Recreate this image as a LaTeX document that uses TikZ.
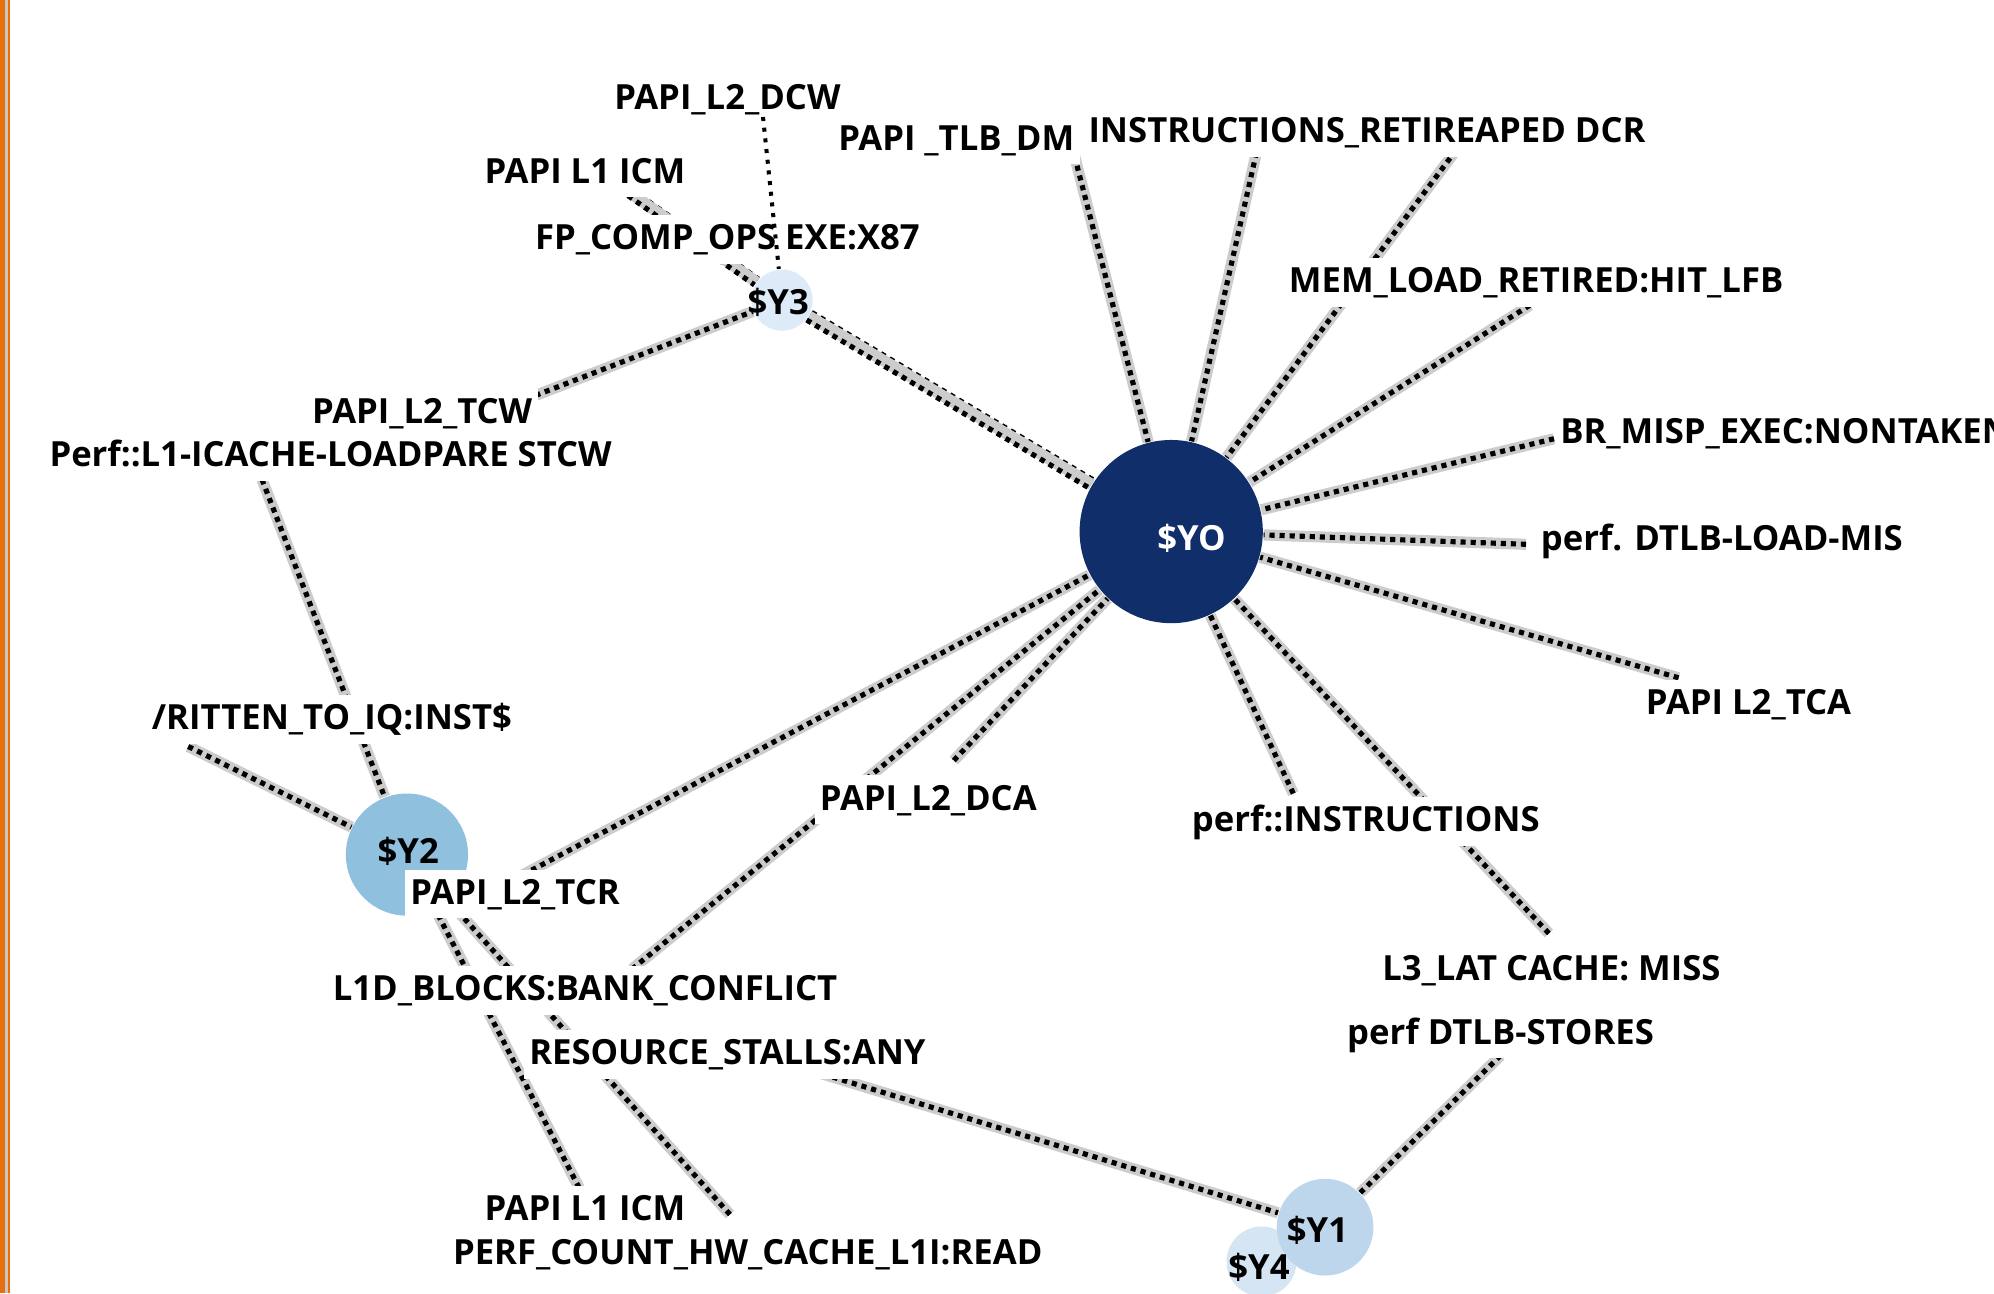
\documentclass[tikz,border=0pt]{standalone}
\usepackage{fontspec}
\setmainfont{Open Sans}
\usepackage{tikz}

\definecolor{hubnavy}{RGB}{16,46,106}
\definecolor{ytwo}{RGB}{143,192,222}
\definecolor{yone}{RGB}{190,214,236}
\definecolor{yfour}{RGB}{214,229,244}
\definecolor{ythree}{RGB}{221,234,247}
\definecolor{edgeorange}{RGB}{232,112,12}
\newcommand{\tagfont}{\fontsize{7.75}{9}\selectfont\bfseries}

\begin{document}
\begin{tikzpicture}[x=0.01cm,y=-0.01cm,
  link/.style={draw=black,line width=1.15pt,dash pattern=on 1.15pt off 1.1pt,preaction={draw=black!20,line width=2.5pt,solid}},
  thinlink/.style={draw=black,line width=0.9pt,dash pattern=on 0.9pt off 1.5pt},
  tag/.style={anchor=base,fill=white,inner sep=1.2pt,text height=0.23cm,text depth=0.07cm,font=\tagfont},
  dot/.style={circle,inner sep=0pt,draw=none},
  dotname/.style={anchor=base,inner sep=0pt,font=\tagfont}]
\useasboundingbox (0,0) rectangle (1568,1017);
\fill[white] (0,0) rectangle (1568,1017);
\fill[edgeorange] (0,0) rectangle (4,1017);
\fill[black!22] (4,0) rectangle (6.3,1017);
\fill[edgeorange] (6.3,0) rectangle (7.9,1017);
\node[dot,fill=hubnavy,minimum size=1.44cm] (yo) at (921,418) {};
\node[dot,fill=ythree,minimum size=0.48cm] (y3) at (615,236) {};
\node[dot,fill=ytwo,minimum size=0.96cm] (y2) at (320,672) {};
\node[dot,fill=yfour,minimum size=0.55cm] (y4) at (992,992) {};
\node[dot,fill=yone,minimum size=0.76cm] (y1) at (1042,965) {};
\coordinate (c-dcw) at (600,92);
\coordinate (c-icm1) at (489,147);
\coordinate (c-tlb) at (843,115);
\coordinate (c-ins1) at (988,120);
\coordinate (c-ins2) at (1145,118);
\coordinate (c-mem) at (1203,240);
\coordinate (c-br) at (1222,345);
\coordinate (c-dtlb) at (1200,428);
\coordinate (c-tca) at (1320,533);
\coordinate (c-pins) at (1017,624);
\coordinate (c-l3) at (1218,734);
\coordinate (c-dca) at (750,598);
\coordinate (c-l1d) at (497,762);
\coordinate (c-tcr) at (411,688);
\coordinate (c-tcw) at (421,311);
\coordinate (c-icache) at (206,377);
\coordinate (c-ritten) at (148,587);
\coordinate (c-icm2) at (459,941);
\coordinate (c-perfc) at (574,955);
\coordinate (c-res) at (632,840);
\coordinate (c-stores) at (1180,830);
\draw[link,transform canvas={xshift=0.55pt,yshift=0.85pt}] (y3)--(yo);
\draw[link,transform canvas={xshift=-0.55pt,yshift=-0.85pt}] (y3)--(yo);
\draw[link,transform canvas={xshift=0.45pt,yshift=0.65pt}] (c-icm1)--(y3);
\draw[link,transform canvas={xshift=-0.45pt,yshift=-0.65pt}] (c-icm1)--(y3);
\draw[link] (c-tcw)--(y3);
\draw[link] (c-tlb)--(yo);
\draw[link] (c-ins1)--(yo);
\draw[link] (c-ins2)--(yo);
\draw[link] (c-mem)--(yo);
\draw[link] (c-br)--(yo);
\draw[link] (c-dtlb)--(yo);
\draw[link] (c-tca)--(yo);
\draw[link] (c-pins)--(yo);
\draw[link] (c-l3)--(yo);
\draw[link] (c-dca)--(yo);
\draw[link] (c-l1d)--(yo);
\draw[link] (c-tcr)--(yo);
\draw[link] (c-icache)--(y2);
\draw[link] (c-ritten)--(y2);
\draw[link] (c-icm2)--(y2);
\draw[link] (c-perfc)--(y2);
\draw[link] (c-res)--(y1);
\draw[link] (c-stores)--(y1);
\node[tag] (t-dcw) at (572,86) {PAPI\_L2\_DCW};
\node[tag] (t-icm1) at (460,144) {PAPI L1 ICM};
\node[tag] (t-fp) at (572,196) {FP\_COMP\_OPS EXE:X87};
\node[tag] (t-tlb) at (752,118) {PAPI \_TLB\_DM};
\node[tag] (t-ins) at (1075,112) {INSTRUCTIONS\_RETIREAPED DCR};
\node[tag] (t-mem) at (1208,230) {MEM\_LOAD\_RETIRED:HIT\_LFB};
\node[tag,anchor=base west] (t-br) at (1222,349) {BR\_MISP\_EXEC:NONTAKEN};
\node[tag] (t-dtlb) at (1354,433) {perf. DTLB-LOAD-MIS};
\node[tag] (t-tca) at (1375,562) {PAPI L2\_TCA};
\node[tag] (t-pins) at (1074,654) {perf::INSTRUCTIONS};
\node[tag] (t-l3) at (1220,771) {L3\_LAT CACHE: MISS};
\node[tag] (t-stores) at (1180,821) {perf DTLB-STORES};
\node[tag] (t-dca) at (730,637) {PAPI\_L2\_DCA};
\node[tag] (t-tcr) at (405,711) {PAPI\_L2\_TCR};
\node[tag] (t-l1d) at (460,787) {L1D\_BLOCKS:BANK\_CONFLICT};
\node[tag] (t-res) at (572,837) {RESOURCE\_STALLS:ANY};
\node[tag] (t-icm2) at (460,960) {PAPI L1 ICM};
\node[tag] (t-perfc) at (588,994) {PERF\_COUNT\_HW\_CACHE\_L1I:READ};
\node[tag] (t-ritten) at (261,574) {/RITTEN\_TO\_IQ:INST\$};
\node[tag] (t-tcw) at (332,333) {PAPI\_L2\_TCW};
\node[tag] (t-icache) at (260,367) {Perf::L1-ICACHE-LOADPARE STCW};
\draw[thinlink] (c-dcw)--(y3);
\node[dotname,text=white] (n-yo) at (937,433) {\$YO};
\node[dotname] (n-y3) at (612,247) {\$Y3};
\node[dotname] (n-y2) at (321,679) {\$Y2};
\node[dotname] (n-y1) at (1036,977) {\$Y1};
\node[dotname] (n-y4) at (990,1006) {\$Y4};
\end{tikzpicture}
\end{document}
